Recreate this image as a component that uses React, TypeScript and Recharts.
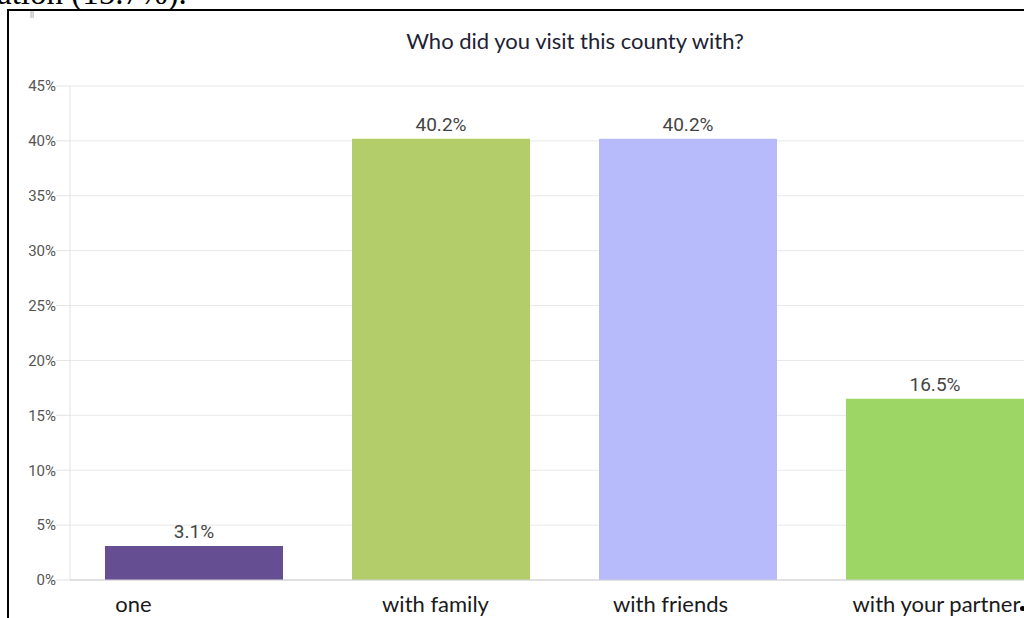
import { BarChart, Bar, XAxis, YAxis, CartesianGrid, Cell, LabelList } from 'recharts';

const categories = ['one', 'with family', 'with friends', 'with your partner'];
const shares = [3.1, 40.2, 40.2, 16.5];
const yTicks = [0, 5, 10, 15, 20, 25, 30, 35, 40, 45];

const barColors = ['#664e93', '#b3cd6a', '#b7bbfb', '#9dd664'];
// the category captions sit a little off-centre in the source image
const captionNudge = [-60, -5, -17, 2];

const data = categories.map((name, i) => ({ name, value: shares[i] }));

const CategoryTick = (props: any) => {
  const { x, y, payload, index } = props;
  return (
    <text
      x={x + (captionNudge[index] ?? 0)}
      y={y + 24}
      textAnchor="middle"
      fill="#1a1a1a"
      fontFamily="Lato, 'Open Sans', sans-serif"
      fontSize={22}
    >
      {payload.value}
    </text>
  );
};

export default function App() {
  return (
    <div
      style={{
        position: 'absolute',
        left: 0,
        top: 0,
        width: 1024,
        height: 618,
        overflow: 'hidden',
        background: '#fff',
      }}
    >
      <div
        style={{
          position: 'absolute',
          left: -3,
          top: -23,
          lineHeight: '33px',
          fontFamily: "'Liberation Serif', 'Times New Roman', serif",
          fontSize: 33,
          color: '#000',
          whiteSpace: 'nowrap',
        }}
      >
        ation (15.7%).
      </div>
      <div
        style={{
          position: 'absolute',
          left: 7,
          top: 9,
          width: 1100,
          height: 700,
          borderLeft: '2px solid #000',
          borderTop: '2px solid #000',
        }}
      />
      <div
        style={{
          position: 'absolute',
          left: 30,
          top: 11,
          lineHeight: '9px',
          fontSize: 9,
          color: '#999',
          fontFamily: 'Arial, sans-serif',
        }}
      >
        ll
      </div>
      <div
        style={{
          position: 'absolute',
          left: 0,
          width: 1150,
          top: 27,
          textAlign: 'center',
          fontFamily: "Lato, 'Open Sans', sans-serif",
          fontSize: 22,
          color: '#1c2233',
        }}
      >
        Who did you visit this county with?
      </div>
      <div style={{ position: 'absolute', left: 0, top: 0 }}>
        <BarChart
          width={1060}
          height={618}
          data={data}
          margin={{ top: 86, right: 2, bottom: 8, left: 10 }}
        >
          <CartesianGrid vertical={false} stroke="#e8e8e8" />
          <YAxis
            type="number"
            domain={[0, 45]}
            ticks={yTicks}
            width={60}
            tickFormatter={(v: number) => `${v}%`}
            axisLine={{ stroke: '#e3e3e3' }}
            tickLine={{ stroke: '#e3e3e3' }}
            tickSize={14}
            tickMargin={0}
            tick={{ fill: '#555', fontSize: 15, fontFamily: 'Roboto, sans-serif' }}
          />
          <XAxis
            dataKey="name"
            height={30}
            axisLine={{ stroke: '#cfcfcf' }}
            tickLine={false}
            tick={<CategoryTick />}
            interval={0}
          />
          <Bar dataKey="value" barSize={178} isAnimationActive={false}>
            {data.map((d, i) => (
              <Cell key={d.name} fill={barColors[i]} />
            ))}
            <LabelList
              dataKey="value"
              position="top"
              offset={8}
              formatter={(v: number) => `${v}%`}
              fill="#444"
              fontSize={19}
              fontFamily="Roboto, sans-serif"
            />
          </Bar>
        </BarChart>
      </div>
      <div
        style={{
          position: 'absolute',
          left: 1020,
          top: 606,
          width: 5,
          height: 5,
          borderRadius: 3,
          background: '#000',
        }}
      />
    </div>
  );
}
